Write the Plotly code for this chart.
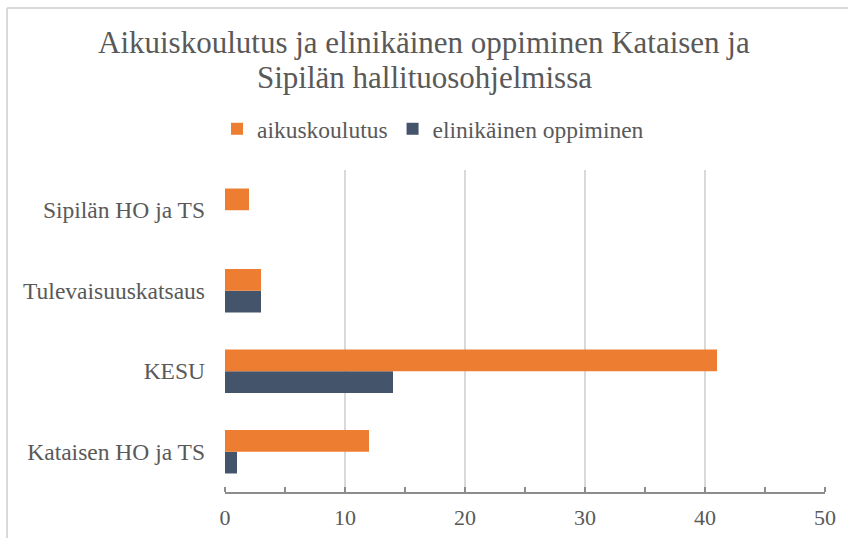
import plotly.graph_objects as go

categories = ["Kataisen HO ja TS", "KESU", "Tulevaisuuskatsaus", "Sipilän HO ja TS"]
aikuskoulutus = [12, 41, 3, 2]
elinikainen = [1, 14, 3, 0]
x_ticks = [0, 10, 20, 30, 40, 50]
title_lines = ["Aikuiskoulutus ja elinikäinen oppiminen Kataisen ja", "Sipilän hallituosohjelmissa"]

font_family = "Liberation Serif"
grey = "#595959"

W, H = 848, 538
L, R, T, B = 225, 23, 170, 46
PW, PH = W - L - R, H - T - B


def px_to_paper_x(px):
    return (px - L) / PW


def px_to_paper_y(py):
    return 1 + (T - py) / PH


fig = go.Figure()
fig.add_trace(go.Bar(
    y=categories, x=elinikainen, orientation="h", name="elinikäinen oppiminen",
    marker=dict(color="#44546A", line=dict(width=0)),
))
fig.add_trace(go.Bar(
    y=categories, x=aikuskoulutus, orientation="h", name="aikuskoulutus",
    marker=dict(color="#ED7D31", line=dict(width=0)),
))

annotations = []
for text, cy in zip(title_lines, [42.5, 77.5]):
    annotations.append(dict(
        text=text, xref="paper", yref="paper",
        x=px_to_paper_x(424), y=px_to_paper_y(cy),
        xanchor="center", yanchor="middle", showarrow=False,
        font=dict(family=font_family, size=31, color=grey),
    ))

border = "#d9d9d9"
shapes = [
    dict(type="line", xref="paper", yref="paper",
         x0=px_to_paper_x(7), x1=px_to_paper_x(W + 5),
         y0=px_to_paper_y(8), y1=px_to_paper_y(8),
         line=dict(color=border, width=2)),
    dict(type="line", xref="paper", yref="paper",
         x0=px_to_paper_x(7), x1=px_to_paper_x(7),
         y0=px_to_paper_y(8), y1=px_to_paper_y(H + 5),
         line=dict(color=border, width=2)),
]

fig.update_layout(
    width=W, height=H,
    margin=dict(l=L, r=R, t=T, b=B, autoexpand=False),
    paper_bgcolor="white", plot_bgcolor="white",
    barmode="group", bargap=0.46, bargroupgap=0,
    font=dict(family=font_family, color=grey, size=23),
    annotations=annotations,
    shapes=shapes,
    legend=dict(
        orientation="h", traceorder="reversed",
        xref="container", yref="container",
        x=433 / W, xanchor="center", y=1 - 129 / H, yanchor="middle",
        font=dict(family=font_family, size=23.5, color=grey),
        itemwidth=30,
    ),
    showlegend=True,
)
fig.update_xaxes(
    range=[0, 50], tickvals=x_ticks, ticktext=[str(v) for v in x_ticks],
    showgrid=True, gridcolor="#d9d9d9", gridwidth=1.5,
    zeroline=False, showline=True, linecolor="#8c8c8c", linewidth=1.5,
    ticks="", ticklabelstandoff=5,
    minor=dict(dtick=5, tick0=0, ticks="inside", ticklen=5, tickcolor="#8c8c8c",
               tickwidth=1.5, showgrid=False),
    tickfont=dict(size=22, color=grey, family=font_family),
)
fig.update_yaxes(
    categoryorder="array", categoryarray=categories,
    showgrid=False, zeroline=False, showline=False, ticks="",
    ticklabelstandoff=19,
    tickfont=dict(size=23.5, color=grey, family=font_family),
)

fig.write_html(
    "out.html",
    config={"displayModeBar": False},
    post_script="document.body.style.margin='0';document.body.style.overflow='hidden';",
)
